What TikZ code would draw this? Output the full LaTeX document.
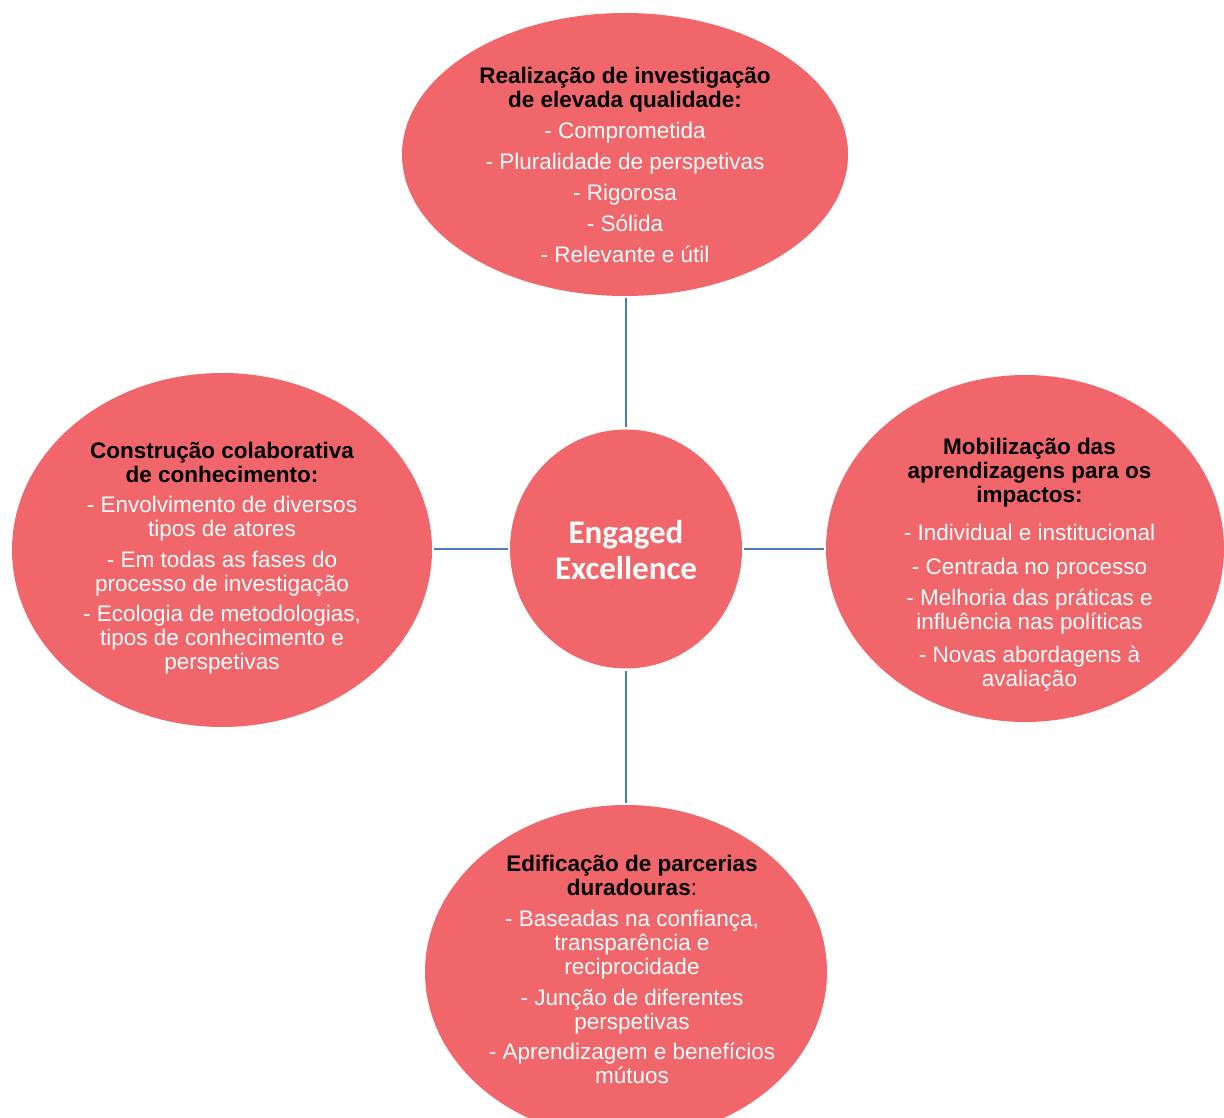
\documentclass[tikz,border=0pt]{standalone}
\usepackage{fontspec}
\setmainfont{Liberation Sans}
\newfontfamily\calibrifont{Carlito}
\usetikzlibrary{shapes.geometric}
\definecolor{bubblered}{RGB}{240,102,106}
\definecolor{linkblue}{RGB}{74,126,187}
\newcommand{\hdr}[1]{\textcolor{black}{\bfseries #1}}
\tikzset{
  bubble/.style={ellipse, fill=bubblered, draw=none, inner sep=0pt},
  txt/.style={align=center, text=white, inner sep=0pt, font=\fontsize{22.5}{24}\selectfont},
  conn/.style={draw=linkblue, line width=2.8pt, shorten <=2pt, shorten >=2pt}
}
\begin{document}
\begin{tikzpicture}[x=1pt,y=1pt]
\useasboundingbox (0,0) rectangle (1224,1117);
% bubbles
\node[bubble, minimum width=446pt, minimum height=283pt] (top) at (625,962.5) {};
\node[bubble, minimum width=232pt, minimum height=239pt] (c) at (626,568) {};
\node[bubble, minimum width=420pt, minimum height=354pt] (left) at (222,567) {};
\node[bubble, minimum width=398pt, minimum height=347pt] (right) at (1025,568.5) {};
\node[bubble, minimum width=402pt, minimum height=334pt] (bot) at (626,145) {};
% connectors
\draw[conn] (c.north) -- (c.north |- top.south);
\draw[conn] (c.south) -- (c.south |- bot.north);
\draw[conn] (c.west) -- (c.west -| left.east);
\draw[conn] (c.east) -- (c.east -| right.west);
% texts
\node[align=center, text=white, inner sep=0pt, font=\calibrifont\bfseries\fontsize{33}{36}\selectfont] (ctxt) at (626,567) {Engaged\\Excellence};
\node[txt] (toptxt) at (625,952.5) {\hdr{Realização de investigação}\\\hdr{de elevada qualidade:}\\[7pt]- Comprometida\\[7pt]- Pluralidade de perspetivas\\[7pt]- Rigorosa\\[7pt]- Sólida\\[7pt]- Relevante e útil};
\node[txt] (righttxt) at (1029.5,552.5) {\hdr{Mobilização das}\\\hdr{aprendizagens para os}\\\hdr{impactos:}\\[14pt]- Individual e institucional\\[10pt]- Centrada no processo\\[7pt]- Melhoria das práticas e\\influência nas políticas\\[9pt]- Novas abordagens à\\avaliação};
\node[txt] (lefttxt) at (222,558.5) {\hdr{Construção colaborativa}\\\hdr{de conhecimento:}\\[6pt]- Envolvimento de diversos\\tipos de atores\\[7pt]- Em todas as fases do\\processo de investigação\\[6pt]- Ecologia de metodologias,\\tipos de conhecimento e\\perspetivas};
\node[txt] (bottxt) at (632,148) {\hdr{Edificação de parcerias}\\\hdr{duradouras}\textcolor{black}{:}\\[7pt]- Baseadas na confiança,\\transparência e\\reciprocidade\\[7pt]- Junção de diferentes\\perspetivas\\[6pt]- Aprendizagem e benefícios\\mútuos};
\end{tikzpicture}
\end{document}
